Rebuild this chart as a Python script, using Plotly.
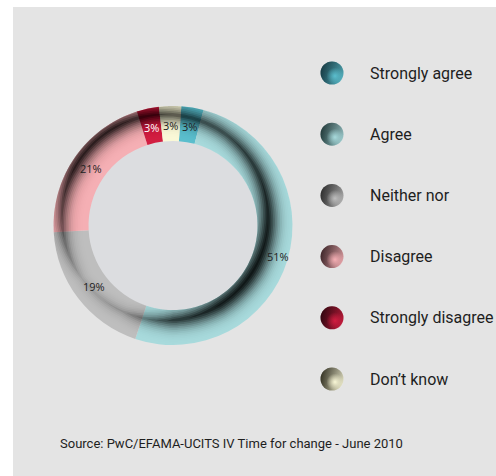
import math
import plotly.graph_objects as go

# ---------------- data ----------------
categories = ["Strongly agree", "Agree", "Neither nor", "Disagree",
              "Strongly disagree", "Don\u2019t know"]
shares = [3, 51, 19, 21, 3, 3]
pct_labels = ["3%", "51%", "19%", "21%", "3%", "3%"]
source_note = "Source: PwC/EFAMA-UCITS IV Time for change - June 2010"

# ---------------- style ----------------
light_colors = ["#5bbecd", "#a8dadc", "#bebebe", "#f5afb4", "#d21e41", "#faf8d7"]
dark_colors = ["#1d4a55", "#2c4a4a", "#3a3a3a", "#4d3034", "#3c0814", "#42402e"]
label_colors = ["#222222", "#222222", "#222222", "#222222", "#ffffff", "#222222"]
label_radius = [100, 110, 100, 100, 100, 100]
PANEL = "#e4e4e4"
HOLE = "#dcdde0"

W, H = 496, 476
CX, CY = 173.0, 225.5
R_OUT, R_IN = 119.5, 84.5
ROTATION = 4

# shading (lighting effect) profile, angles clockwise from 12 o'clock
shade_angles = [0, 30, 60, 90, 120, 150, 180, 210, 240, 270, 300, 330, 360]
shade_peak = [0.66, 0.66, 0.76, 0.84, 0.87, 0.85, 0.72, 0.22, 0.14, 0.55, 0.8, 0.8, 0.66]
SH_OFF = (-8.0, -8.0)
SH_R = 103.0
SIG = 12.5
A_MAX = 0.9
DELTA = 1.75
K = 30


def px(x):
    return x / W


def py(y):
    return 1 - y / H


def hex_rgb(c):
    c = c.lstrip("#")
    return tuple(int(c[i:i + 2], 16) for i in (0, 2, 4))


def interp_peak(t):
    for i in range(len(shade_angles) - 1):
        a0, a1 = shade_angles[i], shade_angles[i + 1]
        if a0 <= t <= a1:
            f = (t - a0) / (a1 - a0)
            return shade_peak[i] * (1 - f) + shade_peak[i + 1] * f
    return shade_peak[-1]


def band_center(t):
    th = math.radians(t)
    ou = SH_OFF[0] * math.sin(th) - SH_OFF[1] * math.cos(th)
    return ou + math.sqrt(SH_R ** 2 - (SH_OFF[0] ** 2 + SH_OFF[1] ** 2) + ou ** 2)


def clamp(r):
    return max(R_IN, min(R_OUT, r))


def pt(r, t):
    th = math.radians(t)
    return px(CX + r * math.sin(th)), py(CY - r * math.cos(th))


fig = go.Figure()

# data donut
fig.add_trace(go.Pie(
    values=shares, labels=categories, text=pct_labels,
    textinfo="none", sort=False, direction="clockwise", rotation=ROTATION,
    hole=R_IN / R_OUT,
    marker=dict(colors=light_colors, line=dict(width=0)),
    domain=dict(x=[px(CX - R_OUT), px(CX + R_OUT)],
                y=[py(CY + R_OUT), py(CY - R_OUT)]),
    showlegend=False, hoverinfo="label+percent",
))

# custom circular legend
leg_x = 332
leg_y0 = 73
leg_dy = 61.2
ly = [leg_y0 + leg_dy * i for i in range(len(categories))]
fig.add_trace(go.Scatter(
    x=[leg_x] * len(categories), y=ly, mode="markers", hoverinfo="skip",
    marker=dict(size=23, color=dark_colors, line=dict(width=0),
                gradient=dict(type="horizontal", color=light_colors)),
    showlegend=False,
))
fig.add_trace(go.Scatter(
    x=[leg_x] * len(categories), y=ly, mode="markers", hoverinfo="skip",
    marker=dict(size=23, color="rgba(0,0,0,0.3)", line=dict(width=0),
                gradient=dict(type="vertical", color="rgba(0,0,0,0)")),
    showlegend=False,
))
fig.add_trace(go.Scatter(
    x=[leg_x + 3] * len(categories), y=[v + 3 for v in ly], mode="markers",
    hoverinfo="skip",
    marker=dict(size=17,
                color=["rgba(%d,%d,%d,0)" % hex_rgb(c) for c in light_colors],
                line=dict(width=0),
                gradient=dict(type="radial", color=light_colors)),
    showlegend=False,
))

annotations = []
for name, yy in zip(categories, ly):
    annotations.append(dict(
        x=368, y=yy, xref="x", yref="y", text=name, showarrow=False,
        xanchor="left", yanchor="middle",
        font=dict(family="Roboto", size=16, color="#1e1e1e"),
    ))

# percentage labels at the middle angle of each slice
total = sum(shares)
cum = 0.0
for v, lab, col, rr in zip(shares, pct_labels, label_colors, label_radius):
    mid = ROTATION + (cum + v / 2) / total * 360
    cum += v
    th = math.radians(mid)
    annotations.append(dict(
        x=CX + rr * math.sin(th), y=CY - rr * math.cos(th), xref="x", yref="y",
        text=lab, showarrow=False, xanchor="center", yanchor="middle",
        font=dict(family="Open Sans", size=11, color=col),
    ))

annotations.append(dict(
    x=58, y=443, xref="x", yref="y", text=source_note, showarrow=False,
    xanchor="left", yanchor="middle",
    font=dict(family="Roboto", size=13, color="#1e1e1e"),
))

shapes = [
    dict(type="rect", xref="paper", yref="paper", layer="below",
         x0=px(13), x1=1, y0=0, y1=py(7), fillcolor=PANEL, line=dict(width=0)),
    dict(type="circle", xref="paper", yref="paper", layer="below",
         x0=px(CX - R_IN - 1), x1=px(CX + R_IN + 1),
         y0=py(CY + R_IN + 1), y1=py(CY - R_IN - 1),
         fillcolor=HOLE, line=dict(width=0)),
]


# lighting overlay: stacked translucent bands inside the ring
def T(d):
    return A_MAX * math.exp(-(d / SIG) ** 2)


taus = [1 - T((k - 0.5) * DELTA) for k in range(1, K + 1)] + [1.0]
alphas = [1 - taus[k] / taus[k + 1] for k in range(K)]
angles = [i * 2 for i in range(181)]
for k in range(1, K + 1):
    outer, inner = [], []
    for t in angles:
        A = interp_peak(t)
        s = SIG * math.sqrt(math.log(A_MAX / A)) if A < A_MAX else 0.0
        w = max(0.0, k * DELTA - s)
        rc = band_center(t)
        outer.append(pt(clamp(rc + w), t))
        inner.append(pt(clamp(rc - w), t))
    pts = outer + inner[::-1]
    path = "M" + " L".join(f"{x:.5f},{y:.5f}" for x, y in pts) + " Z"
    shapes.append(dict(type="path", xref="paper", yref="paper", layer="above",
                       path=path, fillcolor=f"rgba(0,0,0,{alphas[k-1]:.4f})",
                       line=dict(width=0)))

fig.update_layout(
    width=W, height=H, autosize=False,
    margin=dict(l=0, r=0, t=0, b=0),
    paper_bgcolor="white", plot_bgcolor="rgba(0,0,0,0)",
    xaxis=dict(range=[0, W], domain=[0, 1], visible=False, fixedrange=True),
    yaxis=dict(range=[H, 0], domain=[0, 1], visible=False, fixedrange=True),
    shapes=shapes, annotations=annotations,
    showlegend=False,
)

fig.write_html("out.html")
